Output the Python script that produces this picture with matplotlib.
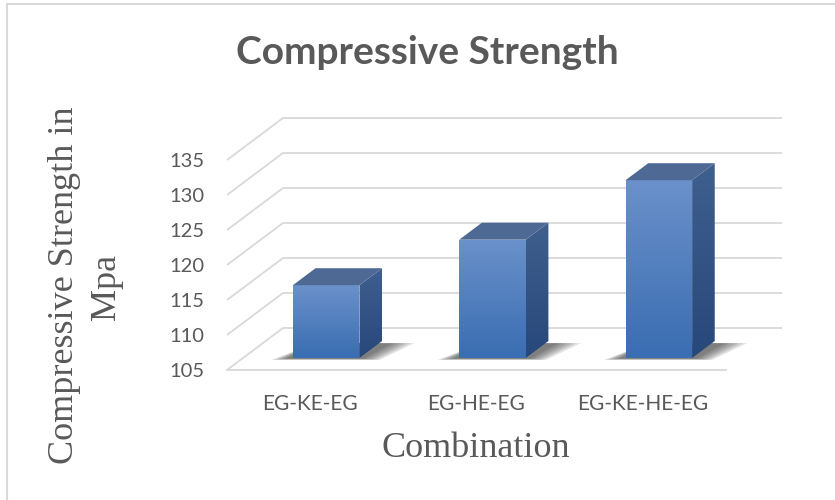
import numpy as np
import matplotlib
matplotlib.use('Agg')
import matplotlib.pyplot as plt
from matplotlib.patches import Polygon, Rectangle
from matplotlib.colors import to_rgb

categories = ['EG-KE-EG', 'EG-HE-EG', 'EG-KE-HE-EG']
strength = [115.4, 121.9, 130.4]
y_ticks = [105, 110, 115, 120, 125, 130, 135]

W, H = 835, 500
text_c = '#595959'
grid_c = '#d9d9d9'

fig = plt.figure(figsize=(W / 100, H / 100), dpi=100)

# axes = front plane of the 3d box, depth is drawn as an oblique offset
ax = fig.add_axes([227 / W, 130 / H, 499 / W, 210 / H])
ax.set_xlim(0, 3)
ax.set_ylim(105, 135)
for s in ax.spines.values():
    s.set_visible(False)
ax.patch.set_visible(False)

ddx = 56 / (499 / 3)   # full depth, x offset in data units
ddy = 42 / 7.0         # full depth, y offset in data units

# side wall + back wall gridlines
for v in y_ticks:
    ax.plot([0, ddx, 3 + ddx], [v + 0, v + ddy, v + ddy], color=grid_c,
            lw=1.3, clip_on=False, zorder=1, solid_capstyle='butt')
ax.plot([0, 3], [105, 105], color=grid_c, lw=1.3, clip_on=False, zorder=1)


def grad_fill(pts, c_bot, c_top, z):
    poly = Polygon(pts, closed=True, facecolor='none', edgecolor='none',
                   transform=ax.transData, clip_on=False, zorder=z)
    ax.add_patch(poly)
    xs = [p[0] for p in pts]
    ys = [p[1] for p in pts]
    n = 64
    t = np.linspace(0, 1, n)[:, None]
    g = (1 - t) * np.array(to_rgb(c_bot)) + t * np.array(to_rgb(c_top))
    im = ax.imshow(g[:, None, :], extent=(min(xs), max(xs), min(ys), max(ys)),
                   origin='lower', aspect='auto', interpolation='bilinear',
                   clip_path=poly, zorder=z)
    im.set_clip_box(fig.bbox)


f0, f1 = 0.286, 0.69
bw = 0.4
base = 105
for i, v in enumerate(strength):
    xl = i + 0.5 - bw / 2
    xr = xl + bw
    ox0, oy0 = f0 * ddx, f0 * ddy
    ox1, oy1 = f1 * ddx, f1 * ddy

    # soft shadow on the floor, layered from wide/faint to tight/dark
    for k in range(6):
        e = 0.018 * (5 - k)
        sh = [(xl + ox0 - 0.04 - e, base + oy0 - 0.1 - e * 2),
              (xr + ox0 + 0.03 + e, base + oy0 - 0.1 - e * 2),
              (xr + ox1 + 0.06 + e * 1.5, base + oy1 - 0.3),
              (xl + ox1, base + oy1 - 0.3)]
        ax.add_patch(Polygon(sh, closed=True, facecolor='#202020',
                             alpha=0.13, edgecolor='none', clip_on=False,
                             zorder=2))

    front = [(xl + ox0, base + oy0), (xr + ox0, base + oy0),
             (xr + ox0, v + oy0), (xl + ox0, v + oy0)]
    side = [(xr + ox0, base + oy0), (xr + ox1, base + oy1),
            (xr + ox1, v + oy1), (xr + ox0, v + oy0)]
    top = [(xl + ox0, v + oy0), (xr + ox0, v + oy0),
           (xr + ox1, v + oy1), (xl + ox1, v + oy1)]
    grad_fill(front, '#3a6db2', '#6a91ca', 3)
    grad_fill(side, '#27487a', '#3f5f8e', 3)
    ax.add_patch(Polygon(top, closed=True, facecolor='#4d6994',
                         edgecolor='none', clip_on=False, zorder=3))

ax.set_xlim(0, 3)
ax.set_ylim(105, 135)
ax.set_yticks(y_ticks)
ax.set_yticklabels([str(t) for t in y_ticks], family='Lato', fontsize=14.5,
                   color=text_c)
ax.set_xticks([0.5, 1.5, 2.5])
ax.set_xticklabels(categories, family='Lato', fontsize=15, color=text_c)
ax.tick_params(axis='y', length=0, pad=16)
ax.tick_params(axis='x', length=0, pad=17)

fig.text(427 / W, 1 - 52 / H, 'Compressive Strength', ha='center',
         va='center', fontsize=28, fontweight='bold', family='Lato',
         color=text_c)
fig.text(476 / W, 1 - 457 / H, 'Combination', ha='center', va='baseline',
         fontsize=26, family='Liberation Serif', color=text_c)

# y axis title, two rotated lines placed by their baselines
fig.text(73 / W, 1 - 285 / H, 'Compressive Strength in', ha='center',
         va='baseline', rotation=90, rotation_mode='anchor', fontsize=26,
         family='Liberation Serif', color=text_c)
fig.text(115 / W, 1 - 287 / H, 'Mpa', ha='center', va='baseline',
         rotation=90, rotation_mode='anchor', fontsize=26,
         family='Liberation Serif', color=text_c)

# chart frame
fig.add_artist(Rectangle((7 / W, -0.1), 1.2, 496 / H + 0.1,
                         transform=fig.transFigure, fill=False,
                         edgecolor=grid_c, lw=1.5))

fig.savefig('out.png', dpi=100)
